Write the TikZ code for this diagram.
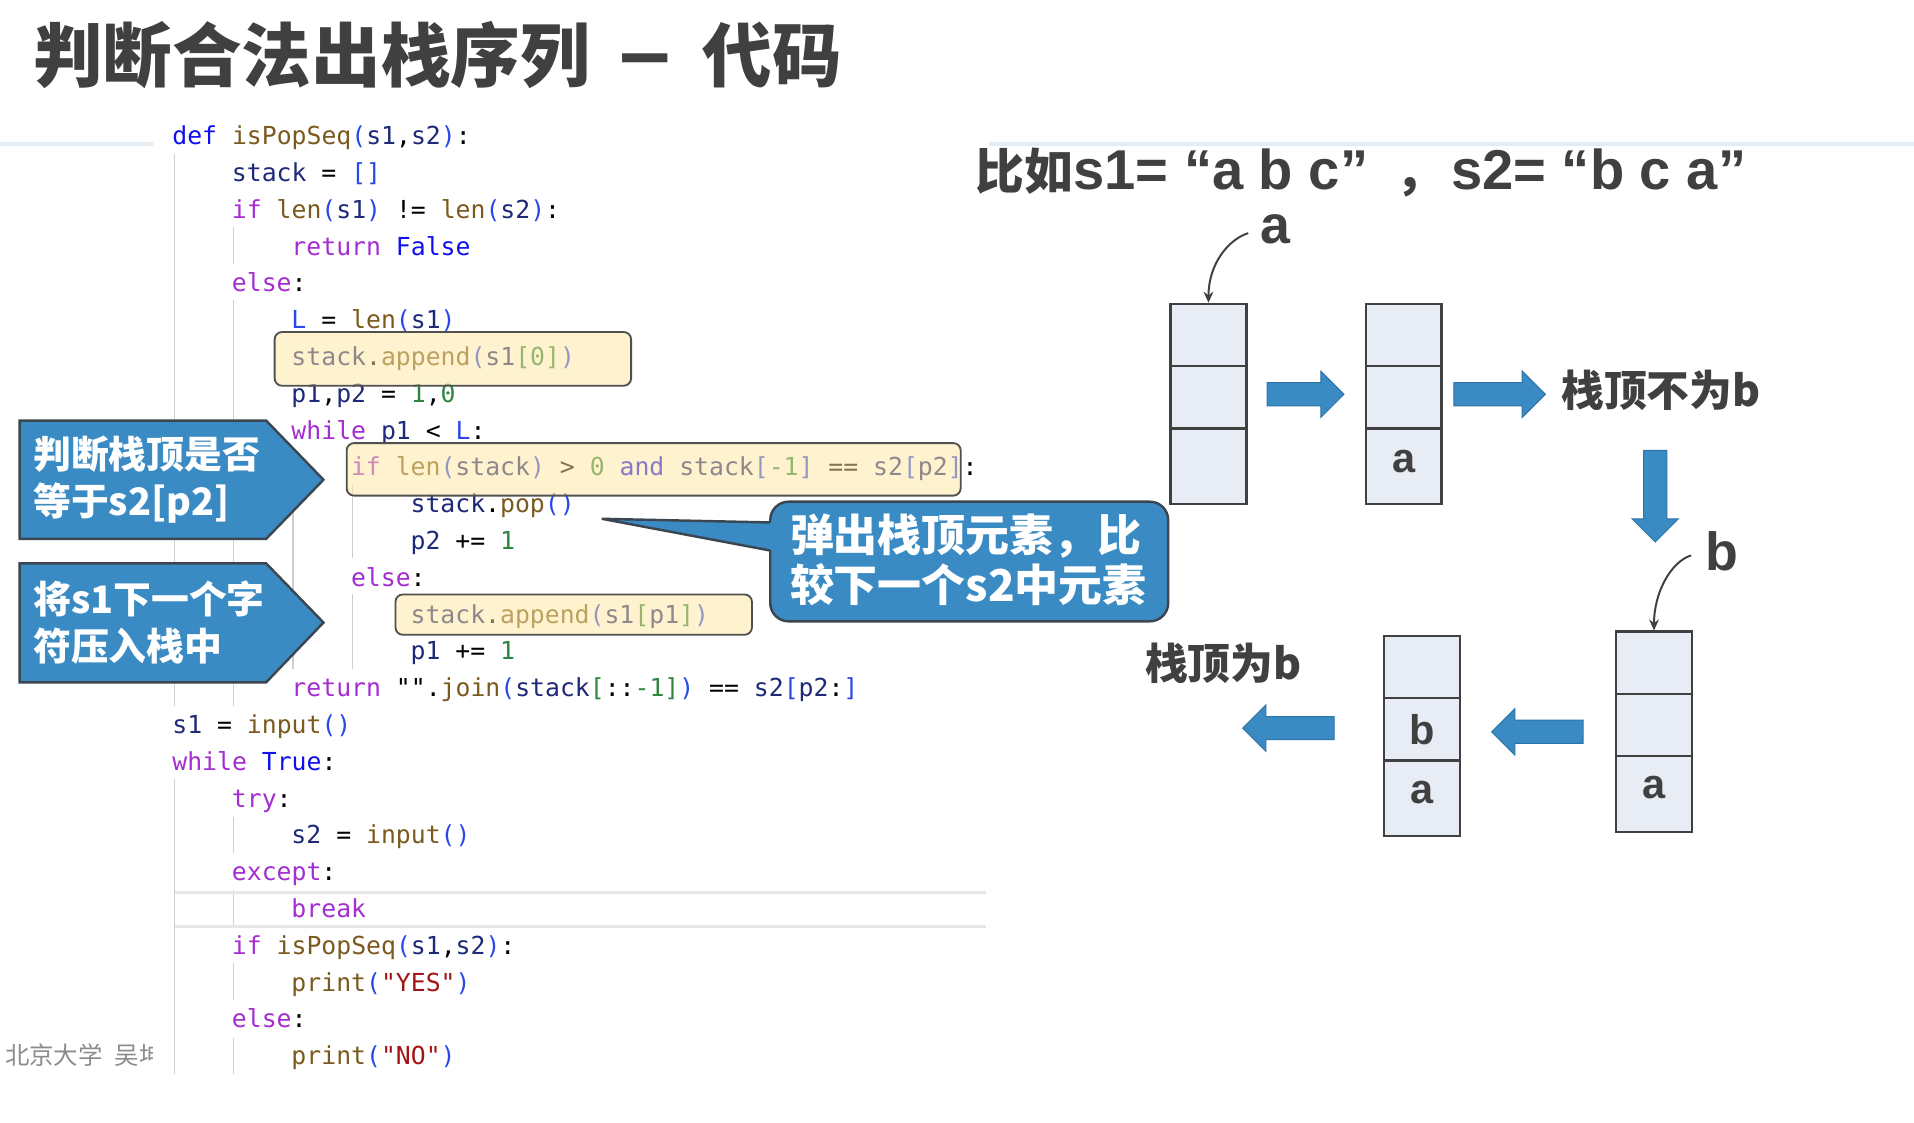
\documentclass[tikz,border=0pt]{standalone}
\usepackage{fontspec}
\setmainfont{Liberation Sans}
\newfontfamily\cjk{Noto Sans CJK SC}
\newfontfamily\codefont{DejaVu Sans Mono}
\usetikzlibrary{calc,arrows.meta}
\definecolor{titlegray}{HTML}{404040}
\definecolor{cblue}{HTML}{3A8BC4}
\definecolor{cborder}{HTML}{3C4650}
\definecolor{aborder}{HTML}{2F74A6}
\definecolor{stkfill}{HTML}{E8EDF5}
\definecolor{stkborder}{HTML}{404040}
\definecolor{guidegray}{HTML}{CFCFCF}
\definecolor{hlfill}{HTML}{FFE7A0}
\definecolor{hlborder}{HTML}{505050}
\definecolor{ckw}{HTML}{A42ED2}
\definecolor{cfn}{HTML}{7A5A1E}
\definecolor{cvar}{HTML}{1E2A78}
\definecolor{cpar}{HTML}{2B47E8}
\definecolor{cnum}{HTML}{2E8540}
\definecolor{cblu}{HTML}{1010F0}
\definecolor{cstr}{HTML}{A31515}
\definecolor{headline}{HTML}{E4ECF3}
\definecolor{footgray}{HTML}{8C8C8C}
\definecolor{bandgray}{HTML}{E6E6E6}
\newcommand\Ckw[1]{\textcolor{ckw}{#1}}
\newcommand\Cfn[1]{\textcolor{cfn}{#1}}
\newcommand\Cvar[1]{\textcolor{cvar}{#1}}
\newcommand\Cpar[1]{\textcolor{cpar}{#1}}
\newcommand\Cnum[1]{\textcolor{cnum}{#1}}
\newcommand\Cblu[1]{\textcolor{cblu}{#1}}
\newcommand\Cstr[1]{\textcolor{cstr}{#1}}
\tikzset{
  codeline/.style={anchor=base west, inner sep=0, font=\codefont\fontsize{20.3}{24}\selectfont},
  hl/.style={draw=hlborder, line width=1.5, rounded corners=6, fill=hlfill, fill opacity=0.5},
  guide/.style={draw=guidegray, line width=1},
  callout/.style={fill=cblue, draw=cborder, line width=2, line join=miter},
  ctext/.style={anchor=west, align=left, inner sep=0, text=white, font=\cjk\bfseries\fontsize{31}{39}\selectfont},
  ctextR/.style={anchor=west, align=left, inner sep=0, text=white, font=\cjk\bfseries\fontsize{36}{41}\selectfont},
  cell/.style={draw=stkborder, fill=stkfill, line width=2, minimum width=62, inner sep=0},
  stklet/.style={inner sep=0, text=titlegray, font=\bfseries\fontsize{34}{38}\selectfont},
  biglet/.style={inner sep=0, text=titlegray, font=\bfseries\fontsize{44}{48}\selectfont},
  cjklab/.style={anchor=west, inner sep=0, text=titlegray, font=\cjk\bfseries\fontsize{35}{38}\selectfont},
  curv/.style={draw=titlegray, line width=1.6, -{Stealth[length=9pt,width=8pt]}},
  arrowsty/.style={fill=cblue, draw=aborder, line width=0.8},
  pics/barrow/.style={code={\draw[arrowsty] (0,-9.5) -- ({#1-19},-9.5) -- ({#1-19},-19) -- (#1,0) -- ({#1-19},19) -- ({#1-19},9.5) -- (0,9.5) -- cycle;}}
}
\begin{document}
\begin{tikzpicture}[x=1pt,y=-1pt]
\useasboundingbox[fill=white] (0,0) rectangle (1568,919.2);
% header line
\draw[headline, line width=3] (0,118) -- (1568,118);
% footer
\node[anchor=west, inner sep=0, font=\cjk\fontsize{20}{24}\selectfont, text=footgray] (foot) at (4,864) {北京大学\hspace{10pt}吴坤};
% code panel
\fill[white] (125,92) rectangle (810,900);
% title
\node[anchor=west, inner sep=0, font=\cjk\bfseries\fontsize{57}{60}\selectfont, text=titlegray] (title) at (27,45) {判断合法出栈序列\hspace{23pt}\scalebox{1.45}[1.15]{–}\hspace{24pt}代码};
% guides
\draw[guide] (143,126) -- (143,578);
\draw[guide] (143,638) -- (143,880);
\draw[guide] (191,186) -- (191,216);
\draw[guide] (191,246) -- (191,578);
\draw[guide] (191,669) -- (191,699);
\draw[guide] (191,729) -- (191,759);
\draw[guide] (191,789) -- (191,819);
\draw[guide] (191,850) -- (191,880);
\draw[guide] (240,367) -- (240,548);
\draw[guide] (289,397) -- (289,457);
\draw[guide] (289,487) -- (289,548);
% break band
\draw[bandgray, line width=2.5] (143,731) -- (808,731);
\draw[bandgray, line width=2.5] (143,759) -- (808,759);
% code
\node[codeline] (k0) at (141,118.5) {\Cblu{def} \Cfn{isPopSeq}\Cpar{(}\Cvar{s1},\Cvar{s2}\Cpar{)}:};
\node[codeline] (k1) at (189.8,148.65) {\Cvar{stack} = \Cpar{[]}};
\node[codeline] (k2) at (189.8,178.8) {\Ckw{if} \Cfn{len}\Cpar{(}\Cvar{s1}\Cpar{)} != \Cfn{len}\Cpar{(}\Cvar{s2}\Cpar{)}:};
\node[codeline] (k3) at (238.6,208.95) {\Ckw{return} \Cblu{False}};
\node[codeline] (k4) at (189.8,239.1) {\Ckw{else}:};
\node[codeline] (k5) at (238.6,269.25) {\Cpar{L} = \Cfn{len}\Cpar{(}\Cvar{s1}\Cpar{)}};
\node[codeline] (k6) at (238.6,299.4) {\Cvar{stack}.\Cfn{append}\Cpar{(}\Cvar{s1}\Cnum{[0]}\Cpar{)}};
\node[codeline] (k7) at (238.6,329.55) {\Cvar{p1},\Cvar{p2} = \Cnum{1},\Cnum{0}};
\node[codeline] (k8) at (238.6,359.7) {\Ckw{while} \Cvar{p1} < \Cpar{L}:};
\node[codeline] (k9) at (287.4,389.85) {\Ckw{if} \Cfn{len}\Cpar{(}\Cvar{stack}\Cpar{)} > \Cnum{0} \Cblu{and} \Cvar{stack}\Cpar{[}\Cnum{-1}\Cpar{]} == \Cvar{s2}\Cpar{[}\Cvar{p2}\Cpar{]}:};
\node[codeline] (k10) at (336.2,420) {\Cvar{stack}.\Cfn{pop}\Cpar{()}};
\node[codeline] (k11) at (336.2,450.15) {\Cvar{p2} += \Cnum{1}};
\node[codeline] (k12) at (287.4,480.3) {\Ckw{else}:};
\node[codeline] (k13) at (336.2,510.45) {\Cvar{stack}.\Cfn{append}\Cpar{(}\Cvar{s1}\Cnum{[}\Cvar{p1}\Cnum{]}\Cpar{)}};
\node[codeline] (k14) at (336.2,540.6) {\Cvar{p1} += \Cnum{1}};
\node[codeline] (k15) at (238.6,570.75) {\Ckw{return} "".\Cfn{join}\Cpar{(}\Cvar{stack}\Cnum{[}::\Cnum{-1]}\Cpar{)} == \Cvar{s2}\Cpar{[}\Cvar{p2}:\Cpar{]}};
\node[codeline] (k16) at (141,600.9) {\Cvar{s1} = \Cfn{input}\Cpar{()}};
\node[codeline] (k17) at (141,631.05) {\Ckw{while} \Cblu{True}:};
\node[codeline] (k18) at (189.8,661.2) {\Ckw{try}:};
\node[codeline] (k19) at (238.6,691.35) {\Cvar{s2} = \Cfn{input}\Cpar{()}};
\node[codeline] (k20) at (189.8,721.5) {\Ckw{except}:};
\node[codeline] (k21) at (238.6,751.65) {\Ckw{break}};
\node[codeline] (k22) at (189.8,781.8) {\Ckw{if} \Cfn{isPopSeq}\Cpar{(}\Cvar{s1},\Cvar{s2}\Cpar{)}:};
\node[codeline] (k23) at (238.6,811.95) {\Cfn{print}\Cpar{(}\Cstr{"YES"}\Cpar{)}};
\node[codeline] (k24) at (189.8,842.1) {\Ckw{else}:};
\node[codeline] (k25) at (238.6,872.25) {\Cfn{print}\Cpar{(}\Cstr{"NO"}\Cpar{)}};
% highlight boxes
\draw[hl] (225,272) rectangle (517,316);
\draw[hl] (284,363) rectangle (787,406);
\draw[hl] (324,487) rectangle (616,520);
% left callouts
\draw[callout] (16,344.5) -- (218,344.5) -- (265,393) -- (218,441.5) -- (16,441.5) -- cycle;
\node[ctext] (cL1) at (27,393) {判断栈顶是否\\等于s2[p2]};
\draw[callout] (16,461.5) -- (218,461.5) -- (265,510) -- (218,559) -- (16,559) -- cycle;
\node[ctext] (cL2) at (27,510) {将s1下一个字\\符压入栈中};
% right callout
\node[rectangle, rounded corners=15, fill=cblue, draw=cborder, line width=2, minimum width=326, minimum height=98, anchor=north west, inner sep=0] (cR) at (630,410) {};
\fill[cblue] (634,428) -- (493,425) -- (634,451) -- cycle;
\draw[cborder, line width=2, line join=miter] (631,428) -- (493,425) -- (631,451);
\node[ctextR] (tR) at (647,459) {弹出栈顶元素，比\\较下一个s2中元素};
% example heading
\node[anchor=base west, inner sep=0, text=titlegray, font=\bfseries\fontsize{46}{50}\selectfont] (ex) at (799,155.5) {{\cjk\fontsize{40}{44}\selectfont 比如}s1= “a b c”\hspace{22pt}{\cjk\fontsize{40}{44}\selectfont ，}\hspace{6pt}s2= “b c a”};
% stacks
\node[cell, minimum height=51] (c11) at (990,274.5) {};
\node[cell, minimum height=51] (c12) at (990,325.5) {};
\node[cell, minimum height=62] (c13) at (990,382) {};
\node[cell, minimum height=51] (c21) at (1150,274.5) {};
\node[cell, minimum height=51] (c22) at (1150,325.5) {};
\node[cell, minimum height=62] (c23) at (1150,382) {};
\node[stklet] (l23) at ([yshift=4pt]c23.center) {a};
\node[cell, minimum height=51] (c31) at (1355,543) {};
\node[cell, minimum height=51] (c32) at (1355,594) {};
\node[cell, minimum height=62] (c33) at (1355,650.5) {};
\node[stklet] (l33) at ([yshift=5pt]c33.center) {a};
\node[cell, minimum height=51] (c41) at (1165,546.5) {};
\node[cell, minimum height=51] (c42) at (1165,597.5) {};
\node[cell, minimum height=62] (c43) at (1165,654) {};
\node[stklet] (l42) at (c42.center) {b};
\node[stklet] (l43) at ([yshift=5pt]c43.center) {a};
% push labels
\node[biglet] (la) at (1045,188) {a};
\draw[curv] ([xshift=-10pt,yshift=-3pt]la.west) .. controls +(-16,5) and +(0,-32) .. (c11.north);
\node[biglet] (lb) at (1411,452) {b};
\draw[curv] ([xshift=-12pt,yshift=-3pt]lb.west) .. controls +(-16,5) and +(0,-32) .. (c31.north);
% block arrows
\pic at (1038,323) {barrow=63};
\pic at (1191,323) {barrow=75};
\pic[rotate=-90] at (1356,369) {barrow=75};
\pic[rotate=180] at (1297,599.5) {barrow=75};
\pic[rotate=180] at (1093,596.5) {barrow=75};
\node[cjklab] (t1) at (1279,320) {栈顶不为b};
\node[cjklab] (t2) at (938,543) {栈顶为b};
\end{tikzpicture}
\end{document}
